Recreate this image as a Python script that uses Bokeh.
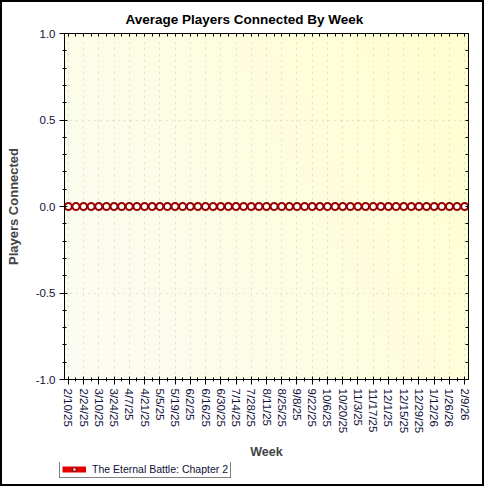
import numpy as np
from bokeh.plotting import figure
from bokeh.layouts import column
from bokeh.models import (LinearAxis, FixedTicker, Range1d, Legend, LegendItem,
                          ColumnDataSource, Title, CustomJSTickFormatter,
                          NumeralTickFormatter)
from bokeh.embed import file_html
from bokeh.resources import INLINE

# weekly buckets shown on the chart
weeks = ["2/10/25", "2/17/25", "2/24/25", "3/3/25", "3/10/25", "3/17/25", "3/24/25",
         "3/31/25", "4/7/25", "4/14/25", "4/21/25", "4/28/25", "5/5/25", "5/12/25",
         "5/19/25", "5/26/25", "6/2/25", "6/9/25", "6/16/25", "6/23/25", "6/30/25",
         "7/7/25", "7/14/25", "7/21/25", "7/28/25", "8/4/25", "8/11/25", "8/18/25",
         "8/25/25", "9/1/25", "9/8/25", "9/15/25", "9/22/25", "9/29/25", "10/6/25",
         "10/13/25", "10/20/25", "10/27/25", "11/3/25", "11/10/25", "11/17/25",
         "11/24/25", "12/1/25", "12/8/25", "12/15/25", "12/22/25", "12/29/25",
         "1/5/26", "1/12/26", "1/19/26", "1/26/26", "2/2/26", "2/9/26"]
players = [0, 0, 0, 0, 0, 0, 0, 0, 0, 0, 0, 0, 0, 0, 0, 0, 0, 0, 0, 0, 0, 0, 0, 0,
           0, 0, 0, 0, 0, 0, 0, 0, 0, 0, 0, 0, 0, 0, 0, 0, 0, 0, 0, 0, 0, 0, 0, 0,
           0, 0, 0, 0, 0]
series_name = "The Eternal Battle: Chapter 2"
y_ticks = [-1.0, -0.5, 0.0, 0.5, 1.0]
y_minor = [-1.0, -0.9, -0.8, -0.7, -0.6, -0.5, -0.4, -0.3, -0.2, -0.1, 0.0,
           0.1, 0.2, 0.3, 0.4, 0.5, 0.6, 0.7, 0.8, 0.9, 1.0]

idx = list(range(len(weeks)))
src = ColumnDataSource(data=dict(x=idx, y=players, week=weeks))

FONT = "Liberation Sans"
LABEL_COLOR = "#10103a"
blank = CustomJSTickFormatter(code="return ''")

p = figure(frame_width=404, frame_height=346, output_backend="svg", toolbar_location=None,
           x_range=Range1d(-0.5, len(weeks) - 0.5), y_range=Range1d(-1, 1),
           x_axis_location=None, y_axis_location=None,
           min_border_left=58, min_border_right=14, min_border_top=31,
           min_border_bottom=0, background_fill_color="white",
           border_fill_color="white")
p.outline_line_color = "black"

# top axis first so it sits against the frame, title above it
top = LinearAxis(ticker=FixedTicker(ticks=idx), formatter=blank)
top.major_tick_in = 3
top.major_tick_out = 0
top.minor_tick_out = 0
top.major_label_standoff = 0
p.add_layout(top, "above")

title = Title(text="Average Players Connected By Week", align="left", offset=61,
              text_font=FONT, text_font_size="13.5px", text_font_style="bold",
              text_color="black", standoff=14)
p.add_layout(title, "above")

# soft yellow gradient behind the plot
nx, ny = 64, 16
u = np.linspace(0, 1, nx)[None, :]
v = np.linspace(0, 1, ny)[:, None]
t = np.clip(0.7 * u + 0.3 * v, 0, 1)
img = np.empty((ny, nx), dtype=np.uint32)
view = img.view(dtype=np.uint8).reshape((ny, nx, 4))
view[:, :, 0] = (252 + 3 * t).astype(np.uint8)
view[:, :, 1] = (252 + 3 * t).astype(np.uint8)
view[:, :, 2] = (244 - 36 * t).astype(np.uint8)
view[:, :, 3] = 255
p.image_rgba(image=[img], x=-0.5, y=-1, dw=len(weeks), dh=2, level="image")

label_ticks = idx[::2]
minor_ticks = idx[1::2]

xaxis = LinearAxis(ticker=FixedTicker(ticks=label_ticks, minor_ticks=minor_ticks),
                   axis_label="Week")
xaxis.major_label_overrides = {i: weeks[i] for i in label_ticks}
xaxis.major_label_orientation = "vertical"
xaxis.major_tick_in = 3
xaxis.major_tick_out = 5
xaxis.minor_tick_in = 2
xaxis.minor_tick_out = 2
xaxis.major_label_standoff = 4
xaxis.major_label_text_font = FONT
xaxis.major_label_text_font_size = "11.5px"
xaxis.major_label_text_color = LABEL_COLOR
xaxis.axis_label_text_font = FONT
xaxis.axis_label_text_font_size = "12.5px"
xaxis.axis_label_text_font_style = "bold"
xaxis.axis_label_standoff = 9
p.add_layout(xaxis, "below")

yaxis = LinearAxis(ticker=FixedTicker(ticks=y_ticks, minor_ticks=y_minor),
                   formatter=NumeralTickFormatter(format="0.0"),
                   axis_label="Players Connected")
yaxis.major_tick_in = 3
yaxis.major_tick_out = 5
yaxis.minor_tick_in = 2
yaxis.minor_tick_out = 2
yaxis.major_label_standoff = 4
yaxis.major_label_text_font = FONT
yaxis.major_label_text_font_size = "11.5px"
yaxis.major_label_text_color = LABEL_COLOR
yaxis.axis_label_text_font = FONT
yaxis.axis_label_text_font_size = "13px"
yaxis.axis_label_text_font_style = "bold"
yaxis.axis_label_standoff = 12
p.add_layout(yaxis, "left")

right = LinearAxis(ticker=FixedTicker(ticks=y_minor), formatter=blank)
right.major_tick_in = 3
right.major_tick_out = 0
right.minor_tick_out = 0
right.major_label_standoff = 0
p.add_layout(right, "right")

p.xgrid.ticker = FixedTicker(ticks=label_ticks)
p.ygrid.ticker = FixedTicker(ticks=y_ticks)
for gr in (p.xgrid, p.ygrid):
    gr.grid_line_color = "#c8c8c8"
    gr.grid_line_dash = "1 5"
    gr.grid_line_width = 1

p.line("x", "y", source=src, line_color="#990000", line_width=2)
p.scatter("x", "y", source=src, marker="circle", size=7, fill_color="white",
          line_color="#990000", line_width=2)

# legend strip as its own small figure under the chart
leg = figure(frame_width=477, frame_height=22, output_backend="svg", toolbar_location=None,
             x_range=Range1d(0, 1), y_range=Range1d(10, 11),
             x_axis_location=None, y_axis_location=None,
             min_border=0, background_fill_color="white", border_fill_color="white")
leg.outline_line_color = None
leg.grid.visible = False
sw_line = leg.line("x", "y", source=src, line_color="#e00000", line_width=6)
sw_mark = leg.scatter("x", "y", source=src, marker="square", size=5,
                      fill_color="white", line_color="#700000", line_width=1)
legend = Legend(items=[LegendItem(label=series_name, renderers=[sw_line, sw_mark])],
                location=(57, 6), orientation="horizontal",
                border_line_color="black", border_line_width=1,
                background_fill_color="white", background_fill_alpha=1,
                label_text_font=FONT, label_text_font_size="10.5px",
                label_text_color=LABEL_COLOR, glyph_width=24, glyph_height=8,
                label_height=10, label_standoff=6, padding=2, spacing=0,
                margin=0)
leg.add_layout(legend, "center")

page = column(p, leg, spacing=0, styles={"border": "2px solid black"})

open("out.html", "w").write(file_html(page, INLINE))
